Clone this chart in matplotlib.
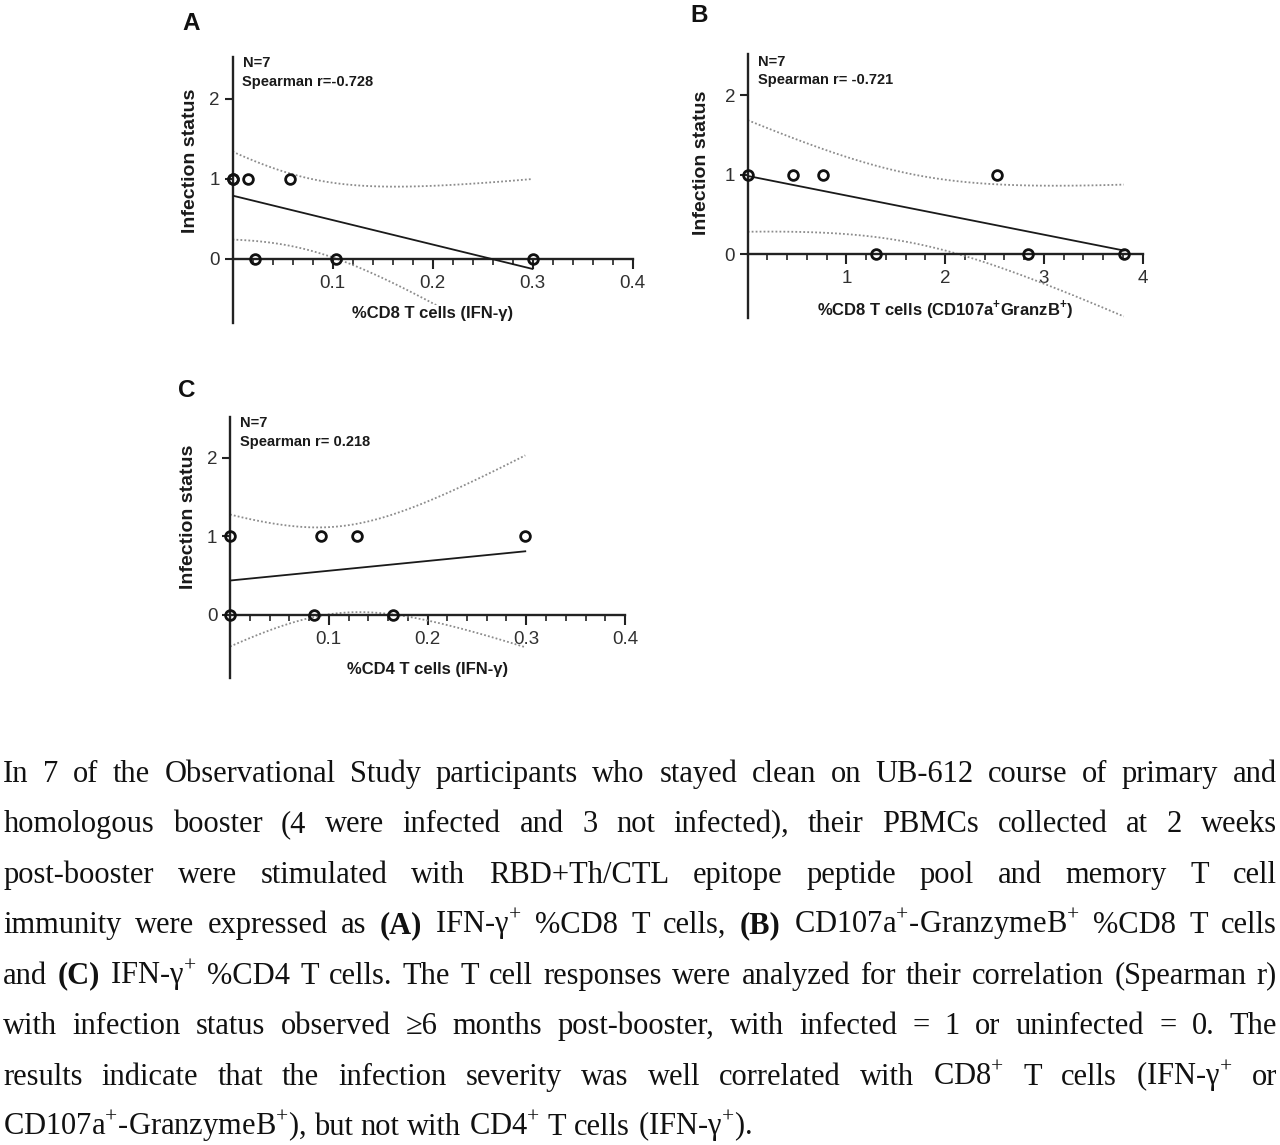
import numpy as np
import matplotlib
matplotlib.use("Agg")
import matplotlib.pyplot as plt
from matplotlib.ticker import FixedLocator, MultipleLocator, FixedFormatter

plt.rcParams['font.family'] = ['Liberation Sans', 'DejaVu Sans']
plt.rcParams['mathtext.fontset'] = 'custom'
plt.rcParams['mathtext.rm'] = 'Liberation Serif'
plt.rcParams['mathtext.bf'] = 'Liberation Sans:bold'

W, H = 1280, 1145

# ---- data (infected = 1, uninfected = 0) ----
a_x = [0, 0, 0.015, 0.057, 0.022, 0.103, 0.300]
a_y = [1, 1, 1, 1, 0, 0, 0]
b_x = [0, 0.46, 0.76, 2.53, 1.30, 2.84, 3.81]
b_y = [1, 1, 1, 1, 0, 0, 0]
c_x = [0, 0.092, 0.129, 0.299, 0, 0.085, 0.165]
c_y = [1, 1, 1, 1, 0, 0, 0]

a_ticks = [0.1, 0.2, 0.3, 0.4]
b_ticks = [1, 2, 3, 4]
c_ticks = [0.1, 0.2, 0.3, 0.4]
a_ticklabels = ["0.1", "0.2", "0.3", "0.4"]
b_ticklabels = ["1", "2", "3", "4"]
c_ticklabels = ["0.1", "0.2", "0.3", "0.4"]
y_ticks = [0, 1, 2]

a_xlabel = "%CD8 T cells (IFN-γ)"
b_xlabel = r"%CD8 T cells (CD107a$^{\mathbf{+}}$GranzB$^{\mathbf{+}}$)"
c_xlabel = "%CD4 T cells (IFN-γ)"
a_stat = "Spearman r=-0.728"
b_stat = "Spearman r= -0.721"
c_stat = "Spearman r= 0.218"

caption_lines = [
    "In 7 of the Observational Study participants who stayed clean on UB-612 course of primary and",
    "homologous booster (4 were infected and 3 not infected), their PBMCs collected at 2 weeks",
    "post-booster were stimulated with RBD+Th/CTL epitope peptide pool and memory T cell",
    "immunity were expressed as (A) IFN-γ$^{+}$ %CD8 T cells, (B) CD107a$^{+}$-GranzymeB$^{+}$ %CD8 T cells",
    "and (C) IFN-γ$^{+}$ %CD4 T cells. The T cell responses were analyzed for their correlation (Spearman r)",
    "with infection status observed ≥6 months post-booster, with infected = 1 or uninfected = 0. The",
    "results indicate that the infection severity was well correlated with CD8$^{+}$ T cells (IFN-γ$^{+}$ or",
    "CD107a$^{+}$-GranzymeB$^{+}$), but not with CD4$^{+}$ T cells (IFN-γ$^{+}$).",
]
bold_words = ["(A)", "(B)", "(C)"]

T_975_DF5 = 2.5706  # two-sided 95% t quantile, 5 degrees of freedom


def fit_band(x, y, n=120):
    """linear regression line with its 95% confidence band"""
    x = np.asarray(x, float)
    y = np.asarray(y, float)
    slope, icpt = np.polyfit(x, y, 1)
    resid = y - (slope * x + icpt)
    s = np.sqrt(np.sum(resid ** 2) / (len(x) - 2))
    sxx = np.sum((x - x.mean()) ** 2)
    grid = np.linspace(x.min(), x.max(), n)
    fit = slope * grid + icpt
    hw = T_975_DF5 * s * np.sqrt(1.0 / len(x) + (grid - x.mean()) ** 2 / sxx)
    return grid, fit, fit - hw, fit + hw


def box(left, top, right, bottom):
    return [left / W, 1 - bottom / H, (right - left) / W, (bottom - top) / H]


def panel(ax, xs, ys, xmax, ticks, ticklabels, minor, xlabel, stat, ylab_pos, stat_y):
    ax.set_xlim(0, xmax)
    ax.set_ylim(-0.81, 2.52)
    for side in ("top", "right"):
        ax.spines[side].set_visible(False)
    ax.spines["bottom"].set_position(("data", 0))
    for side in ("left", "bottom"):
        ax.spines[side].set_linewidth(1.7)
        ax.spines[side].set_color("#222222")

    grid, fit, lo, hi = fit_band(xs, ys)
    ax.plot(grid, fit, color="#1a1a1a", lw=1.3, zorder=3)
    ax.plot(grid, lo, color="#8c8c8c", lw=1.3, ls=(0, (1, 1.2)), zorder=2)
    ax.plot(grid, hi, color="#8c8c8c", lw=1.3, ls=(0, (1, 1.2)), zorder=2)
    ax.plot(xs, ys, "o", ms=7, mfc="none", mec="#111111", mew=2.0,
            clip_on=False, zorder=5)

    ax.xaxis.set_major_locator(FixedLocator(ticks))
    ax.xaxis.set_major_formatter(FixedFormatter(ticklabels))
    ax.xaxis.set_minor_locator(MultipleLocator(minor))
    ax.yaxis.set_major_locator(FixedLocator(y_ticks))
    ax.tick_params(axis="x", which="major", direction="out", length=7.5, width=1.5,
                   labelsize=13.5, pad=4, color="#222222", labelcolor="#303030")
    ax.tick_params(axis="x", which="minor", direction="out", length=4, width=1.2,
                   color="#222222")
    ax.tick_params(axis="y", which="major", direction="out", length=6, width=1.5,
                   labelsize=13.5, pad=3, color="#222222", labelcolor="#303030")

    ax.text(0.5, 0.035, xlabel, transform=ax.transAxes, ha="center", va="center",
            fontsize=12, fontweight="bold", color="#1a1a1a", zorder=6,
            bbox=dict(facecolor="white", edgecolor="none", pad=1))
    ax.text(ylab_pos[0], ylab_pos[1], "Infection status", transform=ax.transAxes,
            rotation=90, ha="center", va="center", fontsize=14, fontweight="bold",
            color="#1a1a1a")
    ax.text(0.025, stat_y[0], "N=7", transform=ax.transAxes, va="center",
            fontsize=10.5, fontweight="bold", color="#1a1a1a")
    ax.text(0.025, stat_y[1], stat, transform=ax.transAxes, va="center",
            fontsize=10.5, fontweight="bold", color="#1a1a1a")


fig = plt.figure(figsize=(W / 100, H / 100), dpi=100)

ax_a = fig.add_axes(box(232.5, 57.3, 632.5, 323.3))
panel(ax_a, a_x, a_y, 0.4, a_ticks, a_ticklabels, 0.02, a_xlabel, a_stat,
      (-0.105, 0.61), (0.979, 0.907))
ax_b = fig.add_axes(box(747.7, 54.0, 1142.5, 318.3))
panel(ax_b, b_x, b_y, 4, b_ticks, b_ticklabels, 0.2, b_xlabel, b_stat,
      (-0.117, 0.59), (0.971, 0.902))
ax_c = fig.add_axes(box(230.0, 416.7, 625.0, 678.3))
panel(ax_c, c_x, c_y, 0.4, c_ticks, c_ticklabels, 0.02, c_xlabel, c_stat,
      (-0.106, 0.618), (0.975, 0.904))

for letter, (px, py) in zip("ABC", [(190.7, 23), (699, 15), (186.7, 390.7)]):
    fig.text(px / W, 1 - py / H, letter, ha="center", va="center",
             fontsize=17.5, fontweight="bold", color="#111111")

# ---- justified caption, placed word by word ----
renderer = fig.canvas.get_renderer()
cap_left, cap_right = 3.3, 1277.0
base0, step = 781.7, 50.5
cap_size = 22
space_px = 0.25 * cap_size * 100 / 72

for i, line in enumerate(caption_lines):
    words = line.split(" ")
    y = 1 - (base0 + i * step) / H
    items = []
    for w in words:
        t = fig.text(0, y, w, fontsize=cap_size, va="baseline", ha="left",
                     family=["Liberation Serif", "DejaVu Serif"],
                     fontweight="bold" if w in bold_words else "normal",
                     color="#111111")
        items.append((t, t.get_window_extent(renderer).width))
    total = sum(wd for _, wd in items)
    if i < len(caption_lines) - 1:
        gap = (cap_right - cap_left - total) / (len(items) - 1)
    else:
        gap = space_px
    x = cap_left
    for t, wd in items:
        t.set_x(x / W)
        x += wd + gap

fig.savefig("out.png", dpi=100)
